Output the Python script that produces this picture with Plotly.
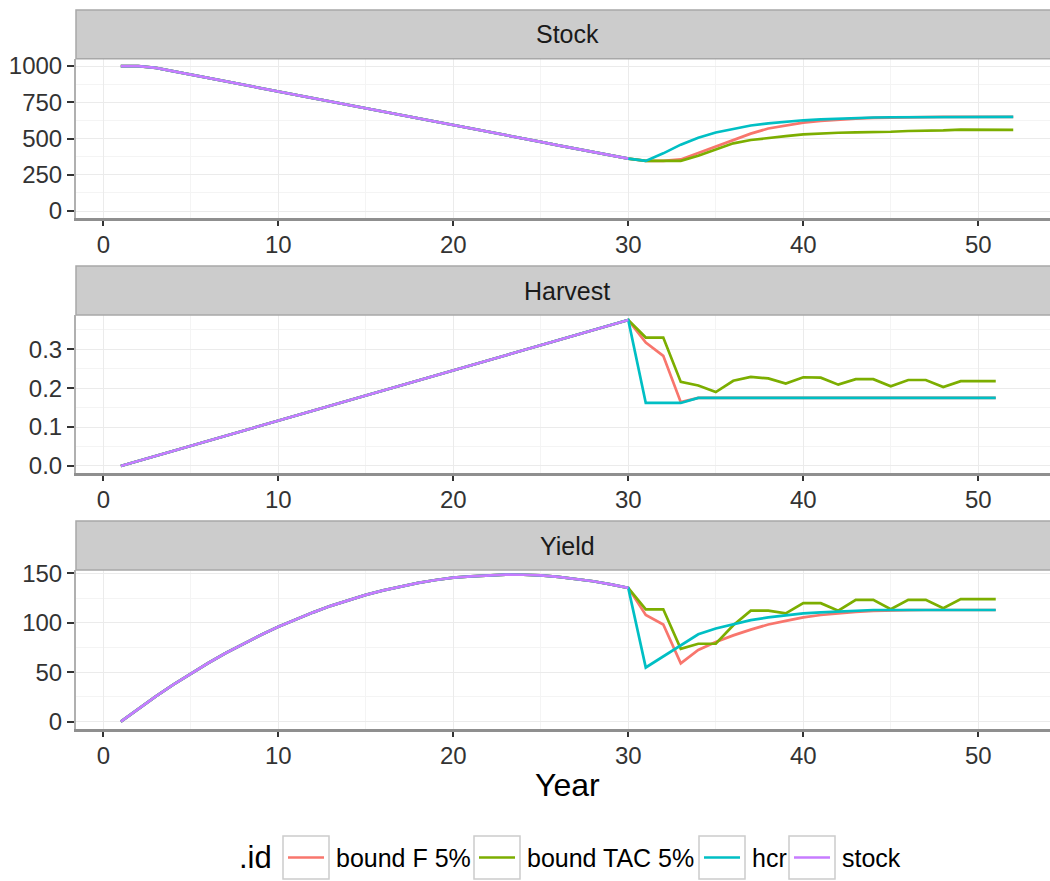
import plotly.graph_objects as go

# ---------------- data ----------------
years_hist = list(range(1, 31))
years_stock_proj = list(range(31, 53))
years_proj = list(range(31, 52))

stock_hist = [1000, 1000, 987, 964, 941, 917, 894, 871, 848, 825, 801, 778, 755, 732, 709,
              685, 662, 639, 616, 593, 569, 546, 523, 500, 477, 453, 430, 407, 384, 361]
harvest_hist = [0.0, 0.013, 0.026, 0.039, 0.052, 0.065, 0.078, 0.091, 0.103, 0.116,
                0.129, 0.142, 0.155, 0.168, 0.181, 0.194, 0.207, 0.220, 0.233, 0.246,
                0.259, 0.272, 0.284, 0.297, 0.310, 0.323, 0.336, 0.349, 0.362, 0.375]
yield_hist = [0.0, 12.9, 25.5, 37.4, 48.7, 59.3, 69.4, 78.8, 87.7, 96.0, 103.6, 110.6,
              117.2, 123.0, 128.3, 132.9, 137.0, 140.5, 143.4, 145.7, 147.1, 148.3, 148.8,
              148.7, 148.0, 146.5, 144.6, 142.1, 139.0, 135.4]

# projections (years 31..52 for stock, 31..51 for harvest and yield)
stock_boundF = [346, 346, 356, 400, 446, 492, 534, 569, 592, 610, 622, 631, 637, 642, 645,
                647, 648, 649, 650, 650, 650, 650]
stock_boundTAC = [346, 346, 346, 381, 425, 467, 490, 506, 517, 529, 536, 540, 543, 543, 547,
                  552, 552, 556, 561, 561, 560, 560]
stock_hcr = [346, 398, 458, 506, 542, 568, 590, 605, 617, 626, 632, 638, 642, 645, 647, 648,
             649, 649, 650, 650, 650, 650]

harvest_boundF = [0.317, 0.283, 0.164, 0.175, 0.175, 0.175, 0.175, 0.175, 0.175, 0.175, 0.175,
                  0.175, 0.175, 0.175, 0.175, 0.175, 0.175, 0.175, 0.175, 0.175, 0.175]
harvest_boundTAC = [0.330, 0.330, 0.216, 0.207, 0.190, 0.219, 0.229, 0.225, 0.212, 0.228, 0.227,
                    0.209, 0.223, 0.223, 0.205, 0.221, 0.221, 0.203, 0.218, 0.218, 0.218]
harvest_hcr = [0.162, 0.162, 0.162, 0.175, 0.175, 0.175, 0.175, 0.175, 0.175, 0.175, 0.175,
               0.175, 0.175, 0.175, 0.175, 0.175, 0.175, 0.175, 0.175, 0.175, 0.175]

yield_boundF = [107.9, 98.3, 58.9, 72.6, 80.5, 87.3, 93.1, 98.3, 102.0, 105.5, 107.9, 109.6,
                111.0, 112.0, 112.7, 112.9, 113.0, 113.0, 113.0, 113.0, 113.0]
yield_boundTAC = [113.7, 113.7, 73.6, 78.8, 78.8, 97.6, 112.3, 112.3, 109.6, 119.9, 119.9,
                  112.3, 123.3, 123.3, 113.7, 123.3, 123.3, 114.7, 124.0, 124.0, 124.0]
yield_hcr = [54.8, 66.0, 77.0, 88.4, 94.2, 98.6, 102.7, 105.5, 107.9, 109.6, 110.6, 111.6,
             112.3, 113.0, 113.0, 113.0, 113.0, 113.0, 113.0, 113.0, 113.0]

series_names = ["bound F 5%", "bound TAC 5%", "hcr", "stock"]
series_colors = ["#F8766D", "#7CAE00", "#00BFC4", "#C77CFF"]
panel_titles = ["Stock", "Harvest", "Yield"]

x_ticks = [0, 10, 20, 30, 40, 50]
stock_ticks = [0, 250, 500, 750, 1000]
harvest_ticks = [0.0, 0.1, 0.2, 0.3]
harvest_ticklabels = ["0.0", "0.1", "0.2", "0.3"]
yield_ticks = [0, 50, 100, 150]

# ---------------- layout helpers ----------------
W, H = 1050, 881
ML = 76


def py(p):
    return 1 - p / H


def px(p):
    return (p - ML) / (W - ML)


panels = [
    (10, 58.8, 218.3, [-50, 1050], stock_ticks, [str(t) for t in stock_ticks], 125),
    (266, 315, 473.3, [-0.0188, 0.388], harvest_ticks, harvest_ticklabels, 0.05),
    (521, 570, 729, [-7.5, 153.5], yield_ticks, [str(t) for t in yield_ticks], 25),
]

panel_data = [
    (stock_hist, years_stock_proj, [stock_boundF, stock_boundTAC, stock_hcr]),
    (harvest_hist, years_proj, [harvest_boundF, harvest_boundTAC, harvest_hcr]),
    (yield_hist, years_proj, [yield_boundF, yield_boundTAC, yield_hcr]),
]

fig = go.Figure()
FONT = "Liberation Sans, Arial, Helvetica, sans-serif"
TICKCOL = "#333333"

shapes = []
annotations = []

for i, ((hist, yrs, projs), (st, pt, pb, yr, yt, ytt, ymin)) in enumerate(zip(panel_data, panels)):
    k = "" if i == 0 else str(i + 1)
    xa, ya = "x" + k, "y" + k
    for j in range(3):
        fig.add_trace(go.Scatter(
            x=years_hist + yrs, y=hist + projs[j], mode="lines",
            line=dict(color=series_colors[j], width=2.7), name=series_names[j],
            showlegend=False, xaxis=xa, yaxis=ya))
    fig.add_trace(go.Scatter(
        x=years_hist, y=hist, mode="lines",
        line=dict(color=series_colors[3], width=2.7), name=series_names[3],
        showlegend=False, xaxis=xa, yaxis=ya))

    fig.layout["xaxis" + k] = dict(
        domain=[0, 1], anchor=ya, range=[-1.56, 54.1], tickvals=x_ticks,
        ticks="outside", ticklen=5, tickwidth=2, tickcolor=TICKCOL,
        tickfont=dict(family=FONT, size=24, color=TICKCOL),
        showline=True, linecolor="#8f8f8f", linewidth=3,
        showgrid=True, gridcolor="#EBEBEB", gridwidth=1.3, zeroline=False,
        minor=dict(tick0=5, dtick=10, showgrid=True, gridcolor="#F4F4F4", gridwidth=1),
        ticklabelstandoff=-2, automargin=False,
    )
    fig.layout["yaxis" + k] = dict(
        domain=[py(pb), py(pt)], anchor=xa, range=yr, tickvals=yt, ticktext=ytt,
        ticks="outside", ticklen=7, tickwidth=2, tickcolor=TICKCOL,
        tickfont=dict(family=FONT, size=24, color=TICKCOL),
        showline=True, linecolor="#b0b0b0", linewidth=2,
        showgrid=True, gridcolor="#EBEBEB", gridwidth=1.3, zeroline=False,
        minor=dict(tick0=yt[0] + ymin, dtick=2 * ymin, showgrid=True, gridcolor="#F4F4F4",
                   gridwidth=1),
        ticklabelstandoff=0, automargin=False,
    )
    shapes.append(dict(type="rect", xref="paper", yref="paper", x0=0, x1=1.02,
                       y0=py(pt), y1=py(st), fillcolor="#CCCCCC",
                       line=dict(color="#A8A8A8", width=1.5), layer="above"))
    annotations.append(dict(text=panel_titles[i], xref="paper", yref="paper",
                            x=px(567), y=py((st + pt) / 2), xanchor="center", yanchor="middle",
                            showarrow=False, font=dict(family=FONT, size=25, color="#1a1a1a")))

annotations.append(dict(text="Year", xref="paper", yref="paper", x=px(567), y=py(785),
                        xanchor="center", yanchor="middle", showarrow=False,
                        font=dict(family=FONT, size=32, color="black")))

leg_y = 857.5
annotations.append(dict(text=".id", xref="paper", yref="paper", x=px(274), y=py(leg_y),
                        xanchor="right", yanchor="middle", showarrow=False,
                        font=dict(family=FONT, size=31, color="black")))
key_left = [283, 474, 699, 789]
for name, col, kl in zip(series_names, series_colors, key_left):
    shapes.append(dict(type="rect", xref="paper", yref="paper", x0=px(kl), x1=px(kl + 46),
                       y0=py(879), y1=py(836), fillcolor="white",
                       line=dict(color="#CCCCCC", width=1.5)))
    shapes.append(dict(type="line", xref="paper", yref="paper", x0=px(kl + 5), x1=px(kl + 41),
                       y0=py(leg_y), y1=py(leg_y), line=dict(color=col, width=2.7)))
    annotations.append(dict(text=name, xref="paper", yref="paper", x=px(kl + 51), y=py(leg_y),
                            xanchor="left", yanchor="middle", showarrow=False,
                            font=dict(family=FONT, size=25, color="black")))

fig.update_layout(
    width=W, height=H, margin=dict(l=ML, r=0, t=0, b=0, autoexpand=False),
    paper_bgcolor="white", plot_bgcolor="white",
    shapes=shapes, annotations=annotations, showlegend=False,
)

fig.write_html("out.html", config={"displayModeBar": False},
               post_script="document.body.style.margin='0';document.body.style.overflow='hidden';")
